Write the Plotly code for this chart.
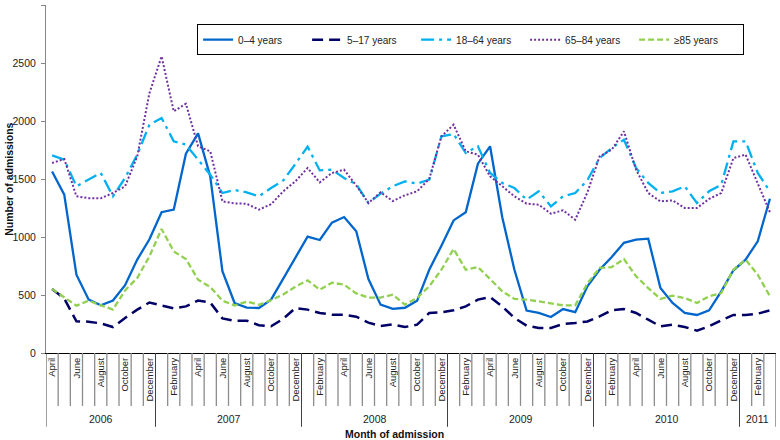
import plotly.graph_objects as go

month_names = ["January", "February", "March", "April", "May", "June", "July",
               "August", "September", "October", "November", "December"]
# Months from April 2006 to March 2011
years = [2006] * 9 + [2007] * 12 + [2008] * 12 + [2009] * 12 + [2010] * 12 + [2011] * 3
month_idx = list(range(3, 12)) + list(range(12)) * 4 + [0, 1, 2]
months = [month_names[m] for m in month_idx]

age_0_4 = [1565, 1365, 675, 462, 411, 452, 585, 805, 980, 1214, 1236, 1718,
           1893, 1522, 705, 431, 392, 388, 460, 640, 825, 1003, 974, 1124,
           1172, 1049, 638, 417, 380, 390, 450, 718, 925, 1143, 1213, 1632,
           1782, 1170, 718, 366, 345, 310, 379, 352, 575, 718, 828, 950,
           977, 986, 560, 431, 345, 328, 368, 532, 713, 805, 963, 1330]
age_5_17 = [552, 470, 273, 270, 255, 224, 302, 374, 435, 410, 385, 402,
            452, 435, 298, 278, 279, 240, 230, 295, 388, 374, 345, 330,
            330, 313, 262, 233, 247, 224, 244, 345, 351, 368, 402, 460,
            483, 402, 302, 236, 216, 216, 250, 259, 272, 316, 368, 379,
            345, 287, 230, 244, 224, 193, 230, 282, 328, 328, 339, 368]
age_18_64 = [1704, 1667, 1437, 1494, 1552, 1351, 1509, 1710, 1968, 2026, 1825, 1796,
             1667, 1537, 1379, 1405, 1385, 1351, 1422, 1487, 1630, 1779, 1574, 1580,
             1509, 1455, 1293, 1374, 1437, 1480, 1460, 1494, 1868, 1888, 1724, 1782,
             1552, 1466, 1422, 1322, 1394, 1264, 1351, 1379, 1490, 1681, 1767, 1839,
             1595, 1466, 1379, 1394, 1437, 1293, 1394, 1451, 1825, 1825, 1552, 1394]
age_65_84 = [1638, 1672, 1351, 1335, 1333, 1379, 1437, 1695, 2240, 2557, 2083, 2149,
             1782, 1739, 1307, 1290, 1286, 1236, 1282, 1394, 1480, 1595, 1471, 1552,
             1580, 1444, 1293, 1385, 1310, 1360, 1394, 1500, 1868, 1968, 1739, 1710,
             1523, 1437, 1351, 1287, 1279, 1201, 1230, 1149, 1385, 1695, 1753, 1911,
             1580, 1379, 1307, 1316, 1250, 1250, 1328, 1379, 1681, 1710, 1466, 1213]
age_85_plus = [552, 483, 408, 451, 410, 374, 540, 647, 833, 1069, 876, 810,
               632, 569, 451, 410, 443, 416, 455, 505, 572, 626, 546, 606,
               589, 514, 478, 478, 503, 417, 474, 575, 718, 897, 718, 741,
               638, 532, 466, 460, 445, 431, 411, 411, 600, 733, 741, 810,
               661, 560, 466, 494, 474, 431, 489, 517, 718, 805, 675, 489]

series_names = ["0\u20134 years", "5\u201317 years", "18\u201364 years", "65\u201384 years", "\u226585 years"]
series_values = [age_0_4, age_5_17, age_18_64, age_65_84, age_85_plus]
series_colors = ["#0066CC", "#000066", "#00B0F0", "#7030A0", "#92D050"]
series_dash = ["solid", "11px,6px", "13px,5px,3px,5px", "2px,2px", "6px,3px"]
series_width = [2.3, 2.5, 2.3, 2.0, 2.3]

x = list(range(len(months)))
FONT = "Liberation Sans"

fig = go.Figure()
for name, vals, col, dash, w in zip(series_names, series_values, series_colors, series_dash, series_width):
    fig.add_trace(go.Scatter(x=x, y=vals, mode="lines", name=name,
                             line=dict(color=col, dash=dash, width=w)))

# month separators and year separators
shapes = []
year_bounds = [-0.5]
for i in range(1, len(months)):
    if years[i] != years[i - 1]:
        year_bounds.append(i - 0.5)
year_bounds.append(len(months) - 0.5)
for i in range(1, len(months)):
    b = i - 0.5
    if b in year_bounds:
        continue
    shapes.append(dict(type="line", xref="x", yref="paper", x0=b, x1=b, y0=0, y1=-0.152,
                       line=dict(color="#8C8C8C", width=1.3)))
for b in year_bounds:
    shapes.append(dict(type="line", xref="x", yref="paper", x0=b, x1=b, y0=0, y1=-0.212,
                       line=dict(color="#404040", width=1)))

annotations = []
for yr in sorted(set(years)):
    idx = [i for i, v in enumerate(years) if v == yr]
    annotations.append(dict(x=(idx[0] + idx[-1]) / 2, y=-0.19, xref="x", yref="paper",
                            text=str(yr), showarrow=False, yanchor="middle",
                            font=dict(family=FONT, size=10.5, color="#222")))
annotations.append(dict(x=0.478, y=-0.232, xref="paper", yref="paper",
                        text="<b>Month of admission</b>", showarrow=False, yanchor="middle",
                        font=dict(family=FONT, size=10.5, color="#111")))
annotations.append(dict(x=-0.051, y=0.5, xref="paper", yref="paper", textangle=-90,
                        text="<b>Number of admissions</b>", showarrow=False,
                        xanchor="center", yanchor="middle",
                        font=dict(family=FONT, size=10.5, color="#111")))

tickvals = [i for i in x if i % 2 == 0]
ticktext = [months[i] for i in tickvals]

fig.update_layout(
    width=780, height=440,
    margin=dict(l=46, r=4, t=5, b=87),
    paper_bgcolor="white", plot_bgcolor="white",
    font=dict(family=FONT, size=10, color="#222"),
    showlegend=True,
    legend=dict(orientation="h", x=0.207, y=0.945, xanchor="left", yanchor="top",
                bgcolor="white", bordercolor="#000", borderwidth=1,
                font=dict(family=FONT, size=10, color="#222"),
                entrywidth=64, entrywidthmode="pixels", itemwidth=30,
                tracegroupgap=0),
    xaxis=dict(range=[-0.5, len(months) - 0.5], tickmode="array", tickvals=tickvals,
               ticktext=ticktext, tickangle=-90, ticks="", showgrid=False, zeroline=False,
               showline=True, linecolor="#000", linewidth=1,
               tickfont=dict(family=FONT, size=9.5, color="#222")),
    yaxis=dict(range=[0, 3000], dtick=500, showgrid=False, zeroline=False,
               showline=True, linecolor="#868686", linewidth=1,
               ticks="outside", ticklen=4, tickcolor="#868686", ticklabelstandoff=3,
               tickfont=dict(family=FONT, size=10.5, color="#222")),
    shapes=shapes, annotations=annotations,
)

fig.write_html("out.html", config={"displayModeBar": False},
               post_script="document.body.style.margin='0';document.body.style.overflow='hidden';")
